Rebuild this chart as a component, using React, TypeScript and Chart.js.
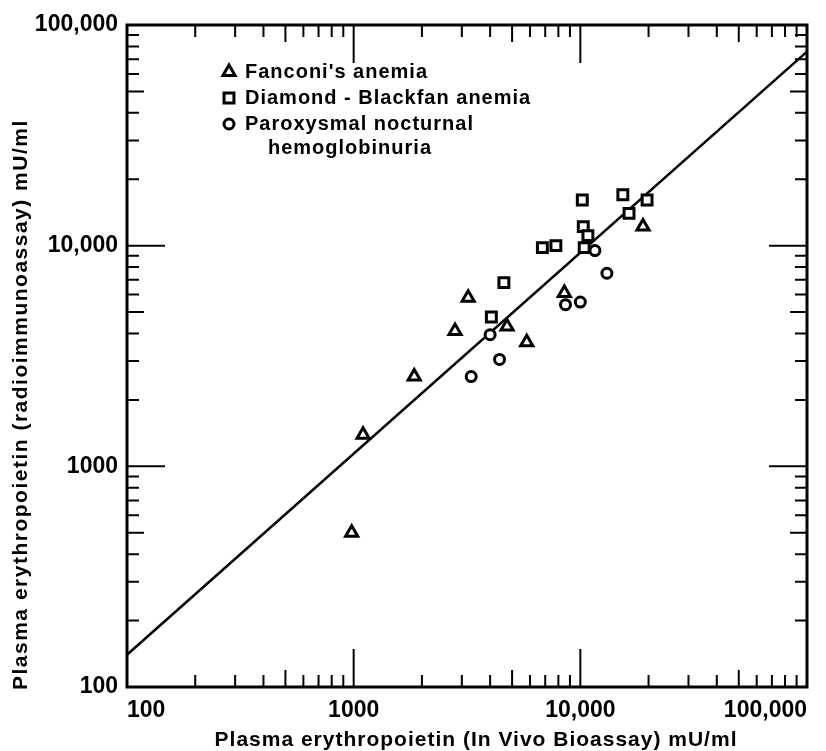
import React, { useEffect, useRef } from "react";
import { Chart, registerables } from "chart.js";
import { drawPoint } from "chart.js/helpers";

Chart.register(...registerables);

// Fanconi's anemia (triangles)
const fanconiX = [980, 1100, 1850, 2800, 3200, 4750, 5800, 8500, 18900];
const fanconiY = [500, 1390, 2550, 4100, 5800, 4300, 3650, 6100, 12200];
// Diamond-Blackfan anemia (squares)
const diamondX = [4050, 4600, 6800, 7800, 10200, 10300, 10800, 10400, 15400, 16400, 19700];
const diamondY = [4750, 6800, 9800, 10000, 16100, 12200, 11100, 9800, 17000, 14000, 16100];
// Paroxysmal nocturnal hemoglobinuria (circles)
const pnhX = [3300, 4400, 4000, 8600, 10000, 11600, 13100];
const pnhY = [2550, 3050, 3950, 5400, 5550, 9500, 7500];
// Regression line
const fitX = [100, 100000];
const fitY = [140, 75700];

const majorTicks = [100, 1000, 10000, 100000];
const tickLabels = ["100", "1000", "10,000", "100,000"];
const minorMultipliers = [2, 3, 4, 5, 6, 7, 8, 9];

const seriesLabels = ["Fanconi's anemia", "Diamond - Blackfan anemia", "Paroxysmal nocturnal"];
const seriesLabelExtra = ["", "", "hemoglobinuria"];
const xTitle = "Plasma erythropoietin (In Vivo Bioassay) mU/ml";
const yTitle = "Plasma erythropoietin (radioimmunoassay) mU/ml";

const FONT = "'Liberation Sans', Arial, sans-serif";

const pts = (xs: number[], ys: number[]) => xs.map((x, i) => ({ x, y: ys[i] }));

const framePlugin = {
  id: "frameTicks",
  afterDraw(chart: any) {
    const { ctx, chartArea: a, scales } = chart;
    const xs = scales.x;
    const ys = scales.y;
    ctx.save();
    ctx.strokeStyle = "#000";
    ctx.lineCap = "butt";
    const drawTick = (len: number, v: number, axis: "x" | "y", w: number) => {
      ctx.lineWidth = w;
      ctx.beginPath();
      if (axis === "x") {
        const p = xs.getPixelForValue(v);
        ctx.moveTo(p, a.bottom);
        ctx.lineTo(p, a.bottom - len);
        ctx.moveTo(p, a.top);
        ctx.lineTo(p, a.top + len);
      } else {
        const p = ys.getPixelForValue(v);
        ctx.moveTo(a.left, p);
        ctx.lineTo(a.left + len, p);
        ctx.moveTo(a.right, p);
        ctx.lineTo(a.right - len, p);
      }
      ctx.stroke();
    };
    for (const axis of ["x", "y"] as const) {
      majorTicks.forEach((d, i) => {
        if (i > 0 && i < majorTicks.length - 1) drawTick(38, d, axis, 2);
        if (i < majorTicks.length - 1) {
          minorMultipliers.forEach((m) => drawTick(m === 5 ? 17 : 12, d * m, axis, 2));
        }
      });
    }
    ctx.lineWidth = 3;
    ctx.strokeRect(a.left, a.top, a.right - a.left, a.bottom - a.top);

    // axis titles
    ctx.fillStyle = "#000";
    ctx.font = `bold 21px ${FONT}`;
    (ctx as any).letterSpacing = "1px";
    ctx.textBaseline = "middle";
    ctx.textAlign = "center";
    ctx.fillText(xTitle, 476, 740);
    (ctx as any).letterSpacing = "1.5px";
    ctx.translate(21, a.bottom + 3);
    ctx.rotate(-Math.PI / 2);
    ctx.textAlign = "left";
    ctx.fillText(yTitle, 0, 0);
    ctx.restore();
  },
};

const legendPlugin = {
  id: "insideLegend",
  afterDraw(chart: any) {
    const { ctx } = chart;
    const rows = [72, 98, 124];
    ctx.save();
    for (let i = 0; i < 3; i++) {
      const ds = chart.data.datasets[i];
      ctx.strokeStyle = "#000";
      ctx.fillStyle = "#fff";
      ctx.lineWidth = ds.borderWidth;
      drawPoint(ctx, { pointStyle: ds.pointStyle, radius: ds.pointRadius, borderWidth: ds.borderWidth, rotation: 0 }, 229, rows[i]);
      ctx.fillStyle = "#000";
      ctx.font = `bold 20px ${FONT}`;
      (ctx as any).letterSpacing = "1px";
      ctx.textBaseline = "middle";
      ctx.textAlign = "left";
      ctx.fillText(seriesLabels[i], 245, rows[i]);
      if (seriesLabelExtra[i]) ctx.fillText(seriesLabelExtra[i], 268, rows[i] + 24);
    }
    ctx.restore();
  },
};

export default function App() {
  const ref = useRef<HTMLCanvasElement>(null);
  useEffect(() => {
    if (!ref.current) return;
    const tickFont = { family: FONT, size: 23, weight: "bold" as const };
    const chart = new Chart(ref.current, {
      type: "scatter",
      data: {
        datasets: [
          { label: seriesLabels[0], data: pts(fanconiX, fanconiY), pointStyle: "triangle", pointRadius: 7, borderWidth: 3, borderColor: "#000", backgroundColor: "#fff" },
          { label: seriesLabels[1], data: pts(diamondX, diamondY), pointStyle: "rect", pointRadius: 7, borderWidth: 3, borderColor: "#000", backgroundColor: "#fff" },
          { label: seriesLabels[2] + " " + seriesLabelExtra[2], data: pts(pnhX, pnhY), pointStyle: "circle", pointRadius: 5, borderWidth: 3, borderColor: "#000", backgroundColor: "#fff" },
          { type: "line", label: "fit", data: pts(fitX, fitY), showLine: true, pointRadius: 0, borderWidth: 2.5, borderColor: "#000", fill: false } as any,
        ],
      },
      options: {
        responsive: false,
        animation: false,
        layout: { padding: { top: 25, right: 19, left: 0, bottom: 0 } },
        plugins: { legend: { display: false }, tooltip: { enabled: false } },
        scales: {
          x: {
            type: "logarithmic",
            min: 100,
            max: 100000,
            position: "bottom",
            afterBuildTicks: (s: any) => { s.ticks = majorTicks.map((v) => ({ value: v })); },
            afterFit: (s: any) => { s.height = 64; s.paddingLeft = 0; s.paddingRight = 0; },
            grid: { display: false, drawTicks: false },
            border: { display: false },
            ticks: {
              autoSkip: false, maxRotation: 0, minRotation: 0, align: "inner", padding: 10, color: "#000", font: tickFont,
              callback: (_v: any, i: number) => tickLabels[i],
            },
            title: { display: false, text: xTitle },
          },
          y: {
            type: "logarithmic",
            min: 100,
            max: 100000,
            position: "left",
            afterBuildTicks: (s: any) => { s.ticks = majorTicks.map((v) => ({ value: v })); },
            afterFit: (s: any) => { s.width = 127; s.paddingTop = 0; s.paddingBottom = 0; },
            grid: { display: false, drawTicks: false },
            border: { display: false },
            ticks: {
              autoSkip: false, padding: 9, color: "#000", font: tickFont,
              callback: (_v: any, i: number) => tickLabels[i],
            },
            title: { display: false, text: yTitle },
          },
        },
      },
      plugins: [framePlugin, legendPlugin],
    });
    return () => chart.destroy();
  }, []);
  return (
    <div style={{ position: "fixed", left: 0, top: 0, width: 826, height: 751, background: "#fff" }}>
      <canvas ref={ref} width={826} height={751} style={{ width: 826, height: 751 }} />
    </div>
  );
}
